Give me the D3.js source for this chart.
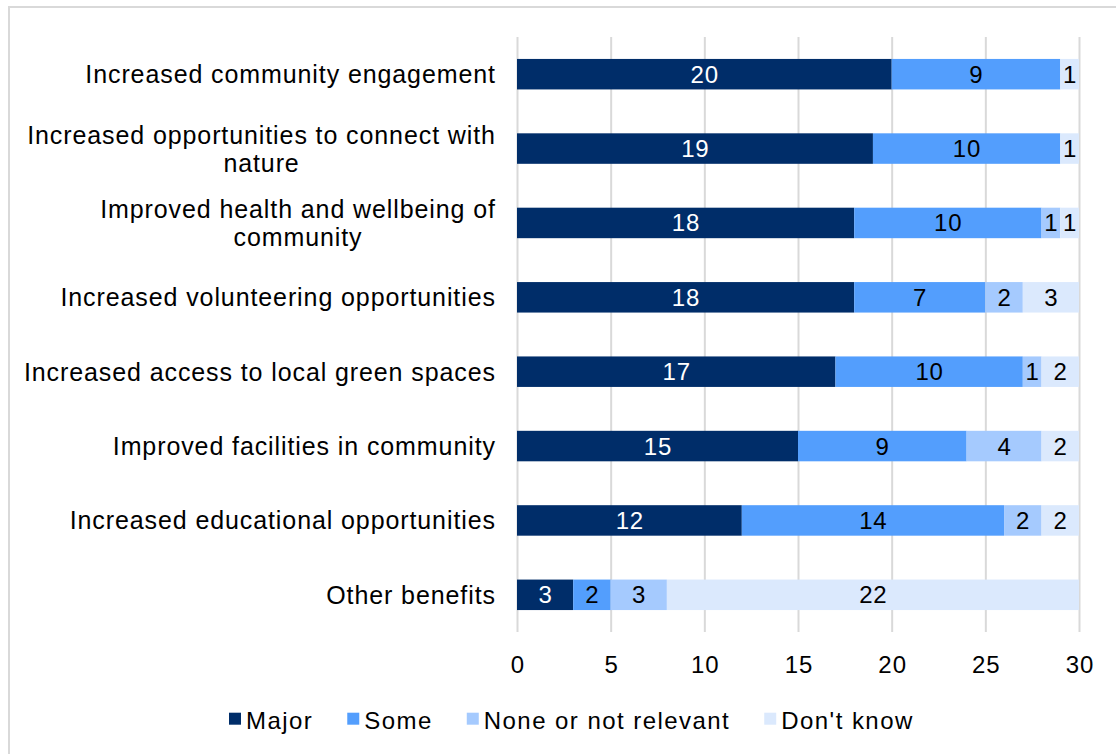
<!DOCTYPE html>
<html>
<head>
<meta charset="utf-8">
<script src="https://cdn.jsdelivr.net/npm/d3@7"></script>
<style>
  body { margin: 0; background: #fff; }
  svg { display: block; font-family: "Liberation Sans", Arial, sans-serif; }
</style>
</head>
<body>
<svg id="chart" width="1116" height="754"></svg>
<script>
// Survey results: perceived benefits, counts of respondents per rating
const categories = [
  "Increased community engagement",
  "Increased opportunities to connect with\nnature",
  "Improved health and wellbeing of\ncommunity",
  "Increased volunteering opportunities",
  "Increased access to local green spaces",
  "Improved facilities in community",
  "Increased educational opportunities",
  "Other benefits"
];
const seriesNames = ["Major", "Some", "None or not relevant", "Don't know"];
const major    = [20, 19, 18, 18, 17, 15, 12, 3];
const some     = [9, 10, 10, 7, 10, 9, 14, 2];
const noneRel  = [0, 0, 1, 2, 1, 4, 2, 3];
const dontKnow = [1, 1, 1, 3, 2, 2, 2, 22];
const xTicks   = [0, 5, 10, 15, 20, 25, 30];

const colors = ["#002d69", "#539efd", "#a5cafe", "#dbe9fd"];
const labelColors = ["#ffffff", "#000000", "#000000", "#000000"];

const svg = d3.select("#chart");
const W = 1116, H = 754;

svg.append("rect").attr("width", W).attr("height", H).attr("fill", "#fff");
// frame around the chart area (runs off the right and bottom edges)
svg.append("rect")
  .attr("x", 9).attr("y", 7).attr("width", 1300).attr("height", 900)
  .attr("fill", "none").attr("stroke", "#d9d9d9").attr("stroke-width", 2);

const plot = { left: 517, right: 1079, top: 37, bottom: 632 };

const x = d3.scaleLinear().domain([0, 30]).range([plot.left, plot.right]);
const y = d3.scaleBand().domain(categories)
  .range([plot.top, plot.bottom])
  .paddingInner(0.59).paddingOuter(0.295);

// rows for stacking
const rows = categories.map((c, i) => ({
  cat: c, Major: major[i], Some: some[i],
  "None or not relevant": noneRel[i], "Don't know": dontKnow[i]
}));
const stack = d3.stack().keys(seriesNames)(rows);

// x axis with vertical gridlines
const xAxis = d3.axisBottom(x)
  .tickValues(xTicks)
  .tickSize(-(plot.bottom - plot.top))
  .tickSizeOuter(0)
  .tickPadding(24)
  .tickFormat(d3.format("d"));

const gx = svg.append("g")
  .attr("transform", `translate(0,${plot.bottom})`)
  .call(xAxis);
gx.select(".domain").remove();
gx.selectAll(".tick line").attr("stroke", "#d9d9d9").attr("stroke-width", 2);
gx.selectAll(".tick text")
  .attr("fill", "#000")
  .style("font-size", "24px")
  .style("letter-spacing", "1px")
  .attr("dx", "0.5px");

// stacked bars
const layer = svg.append("g").selectAll("g")
  .data(stack).join("g")
  .attr("fill", (d, i) => colors[i]);

layer.selectAll("rect")
  .data(d => d.map(s => ({ s, cat: s.data.cat })))
  .join("rect")
  .attr("x", d => x(d.s[0]))
  .attr("y", d => y(d.cat))
  .attr("width", d => x(d.s[1]) - x(d.s[0]))
  .attr("height", y.bandwidth());

// value labels inside segments
stack.forEach((ser, si) => {
  svg.append("g").selectAll("text")
    .data(ser.filter(s => s[1] - s[0] > 0))
    .join("text")
    .attr("x", s => (x(s[0]) + x(s[1])) / 2 + 0.4)
    .attr("y", s => y(s.data.cat) + y.bandwidth() / 2 + 8.5)
    .attr("text-anchor", "middle")
    .attr("fill", labelColors[si])
    .style("font-size", "24px")
    .style("letter-spacing", "0.8px")
    .text(s => s[1] - s[0]);
});

// category labels (wrapped lines centred on each other, block right-aligned)
const labelRight = 495;
const ls = 0.9;
const catG = svg.append("g");
categories.forEach(c => {
  const lines = c.split("\n");
  const cy = y(c) + y.bandwidth() / 2;
  const lineH = 28;
  const t = catG.append("text")
    .attr("fill", "#000")
    .style("font-size", "25px")
    .style("letter-spacing", ls + "px");
  const spans = lines.map((ln, k) => t.append("tspan")
    .attr("y", cy + 9 + (k - (lines.length - 1) / 2) * lineH)
    .text(ln));
  const widths = spans.map(sp => sp.node().getComputedTextLength());
  const maxW = d3.max(widths);
  const centre = labelRight + ls - maxW / 2;
  spans.forEach(sp => sp.attr("x", centre).attr("text-anchor", "middle"));
  if (lines.length === 1) {
    spans[0].attr("text-anchor", "end").attr("x", labelRight + ls);
  }
});

// legend along the bottom
const legend = svg.append("g");
let lx = 229;
seriesNames.forEach((name, i) => {
  legend.append("rect")
    .attr("x", lx).attr("y", 712.7)
    .attr("width", 12).attr("height", 12)
    .attr("fill", colors[i]);
  const t = legend.append("text")
    .attr("x", lx + 17).attr("y", 728.6)
    .attr("fill", "#000")
    .style("font-size", "24px")
    .style("letter-spacing", "1.45px")
    .text(name);
  lx = lx + 17 + t.node().getComputedTextLength() + 34;
});
</script>
</body>
</html>
